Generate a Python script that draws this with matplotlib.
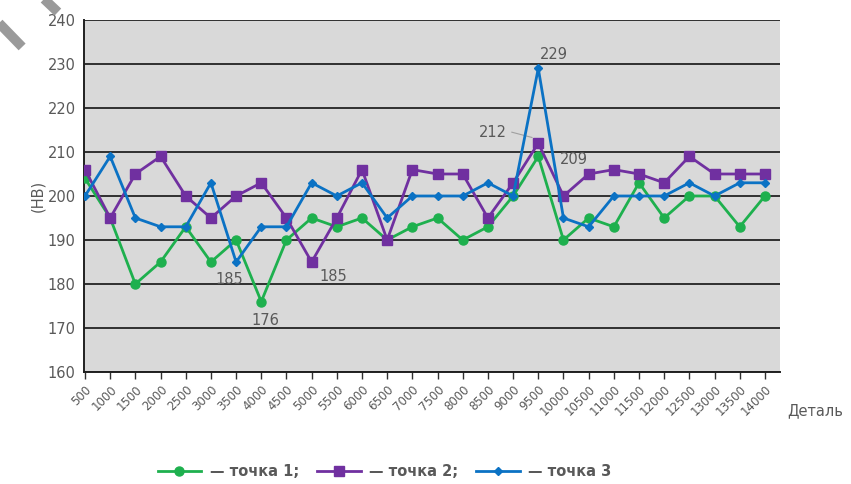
import numpy as np
import matplotlib.pyplot as plt

# hardness (HB) at three measuring points vs part number
details = ['500', '1000', '1500', '2000', '2500', '3000', '3500', '4000', '4500', '5000',
           '5500', '6000', '6500', '7000', '7500', '8000', '8500', '9000', '9500', '10000',
           '10500', '11000', '11500', '12000', '12500', '13000', '13500', '14000']

point1 = [204, 195, 180, 185, 193, 185, 190, 176, 190, 195,
          193, 195, 190, 193, 195, 190, 193, 200, 209, 190,
          195, 193, 203, 195, 200, 200, 193, 200]
point2 = [206, 195, 205, 209, 200, 195, 200, 203, 195, 185,
          195, 206, 190, 206, 205, 205, 195, 203, 212, 200,
          205, 206, 205, 203, 209, 205, 205, 205]
point3 = [200, 209, 195, 193, 193, 203, 185, 193, 193, 203,
          200, 203, 195, 200, 200, 200, 203, 200, 229, 195,
          193, 200, 200, 200, 203, 200, 203, 203]

green = '#1eb04e'
purple = '#7030a0'
blue = '#0b72c4'
grey_txt = '#595959'

x = np.arange(len(details))

fig = plt.figure(figsize=(8.51, 4.84), dpi=100)
ax = fig.add_axes([0.0987, 0.2314, 0.8179, 0.7273])
ax.set_facecolor('#d9d9d9')

ax.plot(x, point1, color=green, lw=2.0, marker='o', ms=6.5, label='— точка 1;', zorder=3)
ax.plot(x, point2, color=purple, lw=2.0, marker='s', ms=6.5, label='— точка 2;', zorder=4)
ax.plot(x, point3, color=blue, lw=2.0, marker='D', ms=4, label='— точка 3', zorder=5)

ax.set_ylim(160, 240)
ax.set_yticks(range(160, 241, 10))
ax.set_xlim(-0.04, 27.6)
ax.set_xticks(x)
ax.set_xticklabels(details, rotation=45, ha='right', rotation_mode='anchor',
                   fontsize=8.5, color=grey_txt)
ax.tick_params(axis='y', length=0, labelsize=10.5, colors=grey_txt, pad=6)
ax.tick_params(axis='x', length=5, width=1, color='#303030', pad=3)
ax.grid(axis='y', color='#303030', lw=1.4)
ax.set_axisbelow(True)
for side in ['top', 'right']:
    ax.spines[side].set_visible(False)
ax.spines['left'].set_color('#202020')
ax.spines['left'].set_linewidth(1.4)
ax.spines['bottom'].set_color('#202020')
ax.spines['bottom'].set_linewidth(1.4)

ax.set_ylabel('(НВ)', fontsize=10.5, color=grey_txt, labelpad=2)
fig.text(0.958, 0.152, 'Деталь', fontsize=10.5, color=grey_txt, ha='center', va='center')

# point labels
lab = dict(fontsize=10.5, color=grey_txt)
ax.text(5.75, 182.8, '185', ha='center', va='top', **lab)
ax.text(7.15, 173.5, '176', ha='center', va='top', **lab)
ax.text(9.3, 183.5, '185', ha='left', va='top', **lab)
ax.text(18.6, 230.5, '229', ha='center', va='bottom', **lab)
ax.text(18.86, 208.2, '209', ha='left', va='center', **lab)
ax.text(16.2, 214.5, '212', ha='center', va='center', **lab)
ax.plot([16.95, 17.75], [214.5, 213.3], color='#a0a0a0', lw=0.8)

# grey scan artefacts in the corner
fig.add_artist(plt.Line2D([-0.006, 0.026], [0.961, 0.903], color='#9a9a9a', lw=7,
                          solid_capstyle='butt', transform=fig.transFigure))
fig.add_artist(plt.Line2D([0.047, 0.068], [1.01, 0.975], color='#9a9a9a', lw=7,
                          solid_capstyle='butt', transform=fig.transFigure))

fig.legend(loc='center', bbox_to_anchor=(0.452, 0.025), ncol=3, frameon=False,
           prop={'weight': 'bold', 'size': 10.5}, labelcolor=grey_txt,
           handlelength=3, columnspacing=1.2, handletextpad=0.6)

fig.savefig('out.png', dpi=100)
